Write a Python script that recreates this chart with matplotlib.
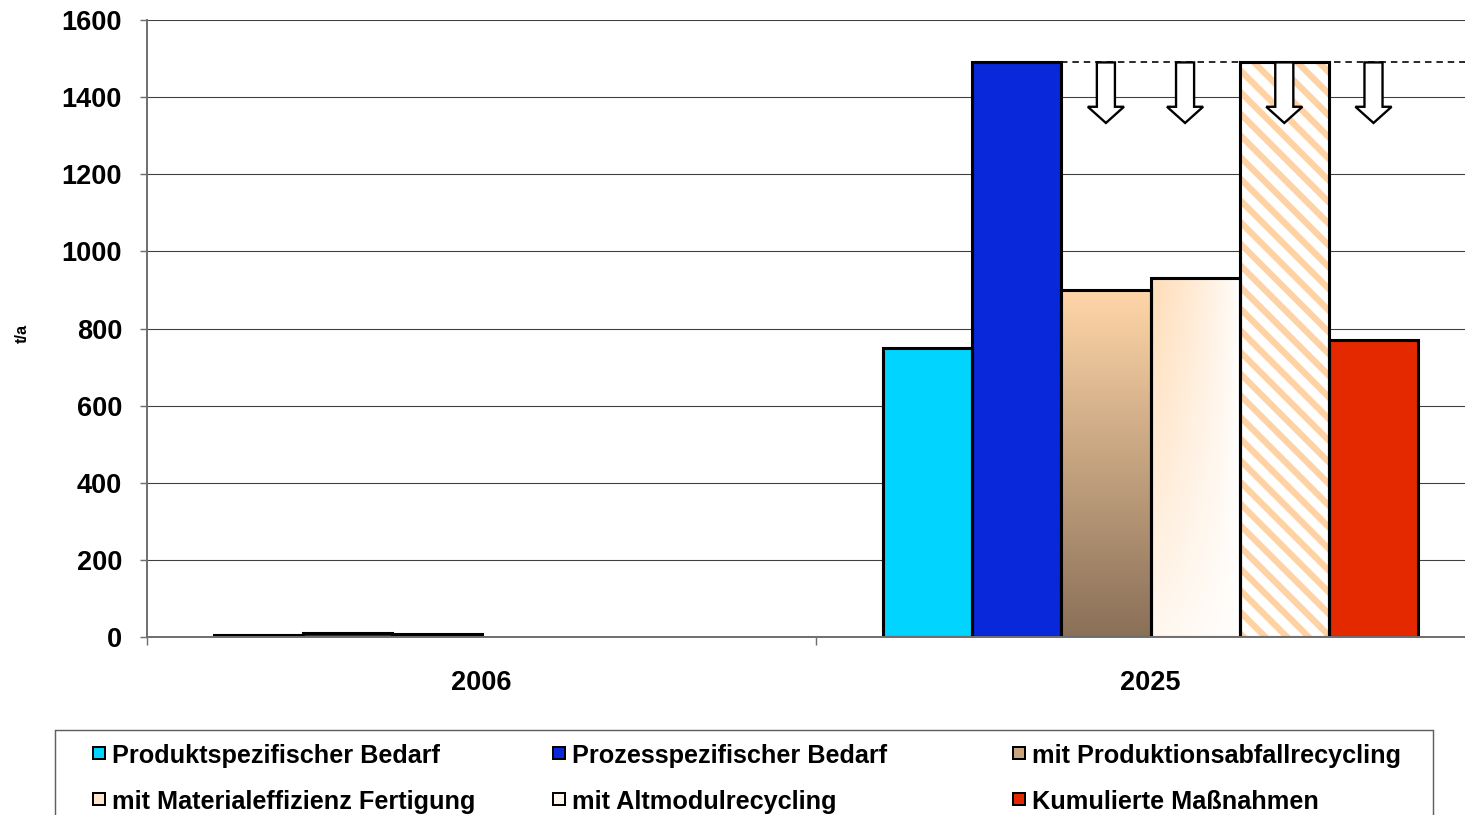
import numpy as np
import matplotlib.pyplot as plt
from matplotlib.patches import Rectangle, FancyArrow
from matplotlib.colors import to_rgb

# data
years = ['2006', '2025']
series = ['Produktspezifischer Bedarf', 'Prozesspezifischer Bedarf',
          'mit Produktionsabfallrecycling', 'mit Materialeffizienz Fertigung',
          'mit Altmodulrecycling', 'Kumulierte Maßnahmen']
values_2006 = [5, 10, 8, 0, 0, 0]
values_2025 = [750, 1490, 900, 930, 1490, 770]
yticks = [0, 200, 400, 600, 800, 1000, 1200, 1400, 1600]

solid_colors = {0: '#00D4FF', 1: '#0828DA', 5: '#E42800'}
legend_colors = ['#00D4FF', '#0828DA', '#C9A47E', '#FFE6CC', '#FFF6EC', '#E42800']

plt.rcParams['font.family'] = ['Liberation Sans', 'DejaVu Sans']
plt.rcParams['font.weight'] = 'bold'
plt.rcParams['hatch.linewidth'] = 3.5

W, H = 1465, 815
DPI = 130
fig = plt.figure(figsize=(W / DPI, H / DPI), dpi=DPI)
ax = fig.add_axes([147 / W, 1 - 637 / H, (1485 - 147) / W, (637 - 20) / H])

n = len(series)
bw = 0.8 / n
xs = np.arange(len(years))


def gradient_img(kind, ny=200, nx=60):
    yy, xx = np.mgrid[0:1:ny * 1j, 0:1:nx * 1j]  # yy: 0 top -> 1 bottom
    if kind == 'vertical':
        top = np.array(to_rgb('#FFD6A8'))
        bot = np.array(to_rgb('#8A7058'))
        img = top + (bot - top) * yy[..., None]
    else:
        peach = np.array(to_rgb('#FFDDB8'))
        white = np.ones(3)
        f = (1 - xx) * (1 - 0.85 * yy)
        f = np.clip(f, 0, 1) ** 0.8
        img = white + (peach - white) * f[..., None]
    return img


for i, name in enumerate(series):
    vals = [values_2006[i], values_2025[i]]
    for j, v in enumerate(vals):
        if v <= 0:
            continue
        x = xs[j] + (i - (n - 1) / 2) * bw
        if i in solid_colors:
            ax.bar(x, v, bw, color=solid_colors[i], edgecolor='black',
                   linewidth=1.7, zorder=3)
        elif i == 4:
            ax.bar(x, v, bw, color='white', edgecolor='#FFD2A4', hatch='\\\\',
                   linewidth=0, zorder=3)
            ax.bar(x, v, bw, color='none', edgecolor='black',
                   linewidth=1.7, zorder=3.5)
        else:
            bars = ax.bar(x, v, bw, color='none', edgecolor='black',
                          linewidth=1.7, zorder=3.5)
            rect = bars.patches[0]
            kind = 'vertical' if i == 2 else 'corner'
            im = ax.imshow(gradient_img(kind), extent=(x - bw / 2, x + bw / 2, 0, v),
                           aspect='auto', zorder=3, interpolation='bilinear')
            im.set_clip_path(rect)

# reduction arrows from the maximum demand
top = max(values_2025)
blue_right = xs[1] + (1 - (n - 1) / 2) * bw + bw / 2
ax.plot([blue_right, 1.5], [top, top], color='black', linestyle=(0, (4, 3)),
        linewidth=0.9, zorder=4, clip_on=False)
for i in range(2, n):
    x = xs[1] + (i - (n - 1) / 2) * bw
    if i == 3:
        x -= 0.015
    arr = FancyArrow(x, top, 0, -157, width=0.027, head_width=0.054,
                     head_length=42, length_includes_head=True,
                     facecolor='white', edgecolor='black', linewidth=1.3,
                     zorder=5)
    ax.add_patch(arr)

ax.set_xlim(-0.5, 1.5)
ax.set_ylim(0, 1600)
ax.set_yticks(yticks)
ax.set_yticklabels([str(t) for t in yticks], fontsize=15, fontweight='bold')
ax.set_xticks(xs)
ax.set_xticklabels(years, fontsize=15, fontweight='bold')
ax.set_xticks([-0.5, 0.5, 1.5], minor=True)
ax.tick_params(axis='x', which='major', length=0, pad=18)
ax.tick_params(axis='x', which='minor', length=4.4, width=0.8, color='#707070')
ax.tick_params(axis='y', length=3.8, width=0.8, color='#707070', pad=10)

ax.yaxis.grid(True, color='#404040', linewidth=0.6)
ax.set_axisbelow(True)
for s in ['top', 'right']:
    ax.spines[s].set_visible(False)
for s in ['left', 'bottom']:
    ax.spines[s].set_color('#707070')
    ax.spines[s].set_linewidth(1.1)
    ax.spines[s].set_zorder(4)

fig.text(22 / W, 1 - 333 / H, 't/a', rotation=90, ha='center', va='center',
         fontsize=9, fontweight='bold')

# legend box, cut by the bottom of the figure like the reference
fig.patches.append(Rectangle((55 / W, -0.05), (1433 - 55) / W, 1 - 730 / H + 0.05,
                             transform=fig.transFigure, facecolor='none',
                             edgecolor='#606060', linewidth=0.8, clip_on=False))
col_x = [93, 553, 1013]
row_y = [754, 800]
for k, name in enumerate(series):
    r, c = divmod(k, 3)
    hx, hy = col_x[c], row_y[r]
    fig.patches.append(Rectangle((hx / W, 1 - (hy + 5) / H), 12 / W, 12 / H,
                                 transform=fig.transFigure,
                                 facecolor=legend_colors[k], edgecolor='black',
                                 linewidth=1.1))
    fig.text((hx + 19) / W, 1 - (hy + 2) / H, name, ha='left', va='center',
             fontsize=14, fontweight='bold')

fig.savefig('out.png', dpi=DPI)
